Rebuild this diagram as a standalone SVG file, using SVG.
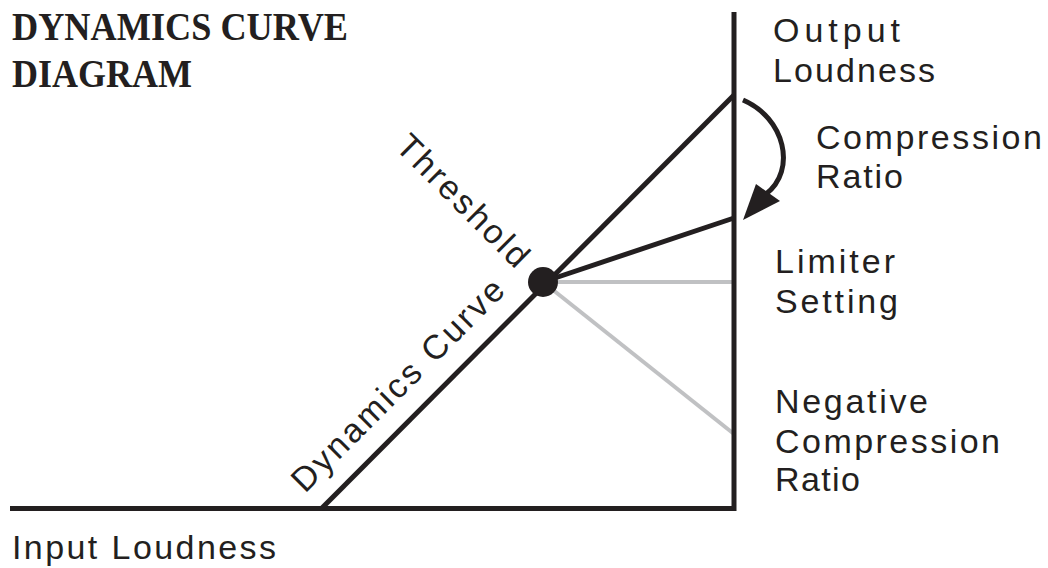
<svg xmlns="http://www.w3.org/2000/svg" width="1048" height="568" viewBox="0 0 1048 568">
<style>
.title{font-family:"Liberation Serif",serif;font-weight:bold;font-size:40px;fill:#231f20}
.lbl{font-family:"Liberation Sans",Arial,sans-serif;font-size:34px;fill:#231f20}
.blk{stroke:#231f20;stroke-width:5;fill:none;stroke-linecap:butt}
.gry{stroke:#c0c1c3;stroke-width:4;fill:none}
</style>
<rect width="1048" height="568" fill="#ffffff"/>
<g id="title">
<text class="title" x="12" y="40" textLength="336" lengthAdjust="spacingAndGlyphs">DYNAMICS CURVE</text>
<text class="title" x="12" y="87" textLength="180" lengthAdjust="spacingAndGlyphs">DIAGRAM</text>
</g>
<g id="connectors">
<line class="gry" x1="543" y1="282" x2="734" y2="282"/>
<line class="gry" x1="543" y1="282" x2="734" y2="434"/>
<polyline class="blk" points="10,508.5 734,508.5 734,12"/>
<line class="blk" x1="321" y1="509" x2="734" y2="95"/>
<line class="blk" x1="543" y1="282" x2="734" y2="218"/>
<path class="blk" d="M743,100 C785,118 797,170 766,194"/>
<polygon points="743,220 756,184 780,201" fill="#231f20"/>
</g>
<g id="threshold-node">
<circle cx="543" cy="282" r="15" fill="#231f20"/>
</g>
<g id="axis-labels">
<text class="lbl" x="773" y="42" textLength="127">Output</text>
<text class="lbl" x="773" y="82" textLength="162">Loudness</text>
<text class="lbl" x="12" y="559" textLength="264">Input Loudness</text>
</g>
<g id="compression-label">
<text class="lbl" x="816" y="149" textLength="226">Compression</text>
<text class="lbl" x="816" y="188" textLength="87">Ratio</text>
</g>
<g id="limiter-label">
<text class="lbl" x="775" y="273" textLength="120">Limiter</text>
<text class="lbl" x="775" y="313" textLength="123">Setting</text>
</g>
<g id="negative-label">
<text class="lbl" x="775" y="413" textLength="153">Negative</text>
<text class="lbl" x="775" y="453" textLength="225">Compression</text>
<text class="lbl" x="775" y="491" textLength="85">Ratio</text>
</g>
<g id="curve-labels">
<text class="lbl" transform="translate(305,494) rotate(-45)" textLength="285">Dynamics Curve</text>
<text class="lbl" transform="translate(394,148) rotate(45)" textLength="172">Threshold</text>
</g>
</svg>
